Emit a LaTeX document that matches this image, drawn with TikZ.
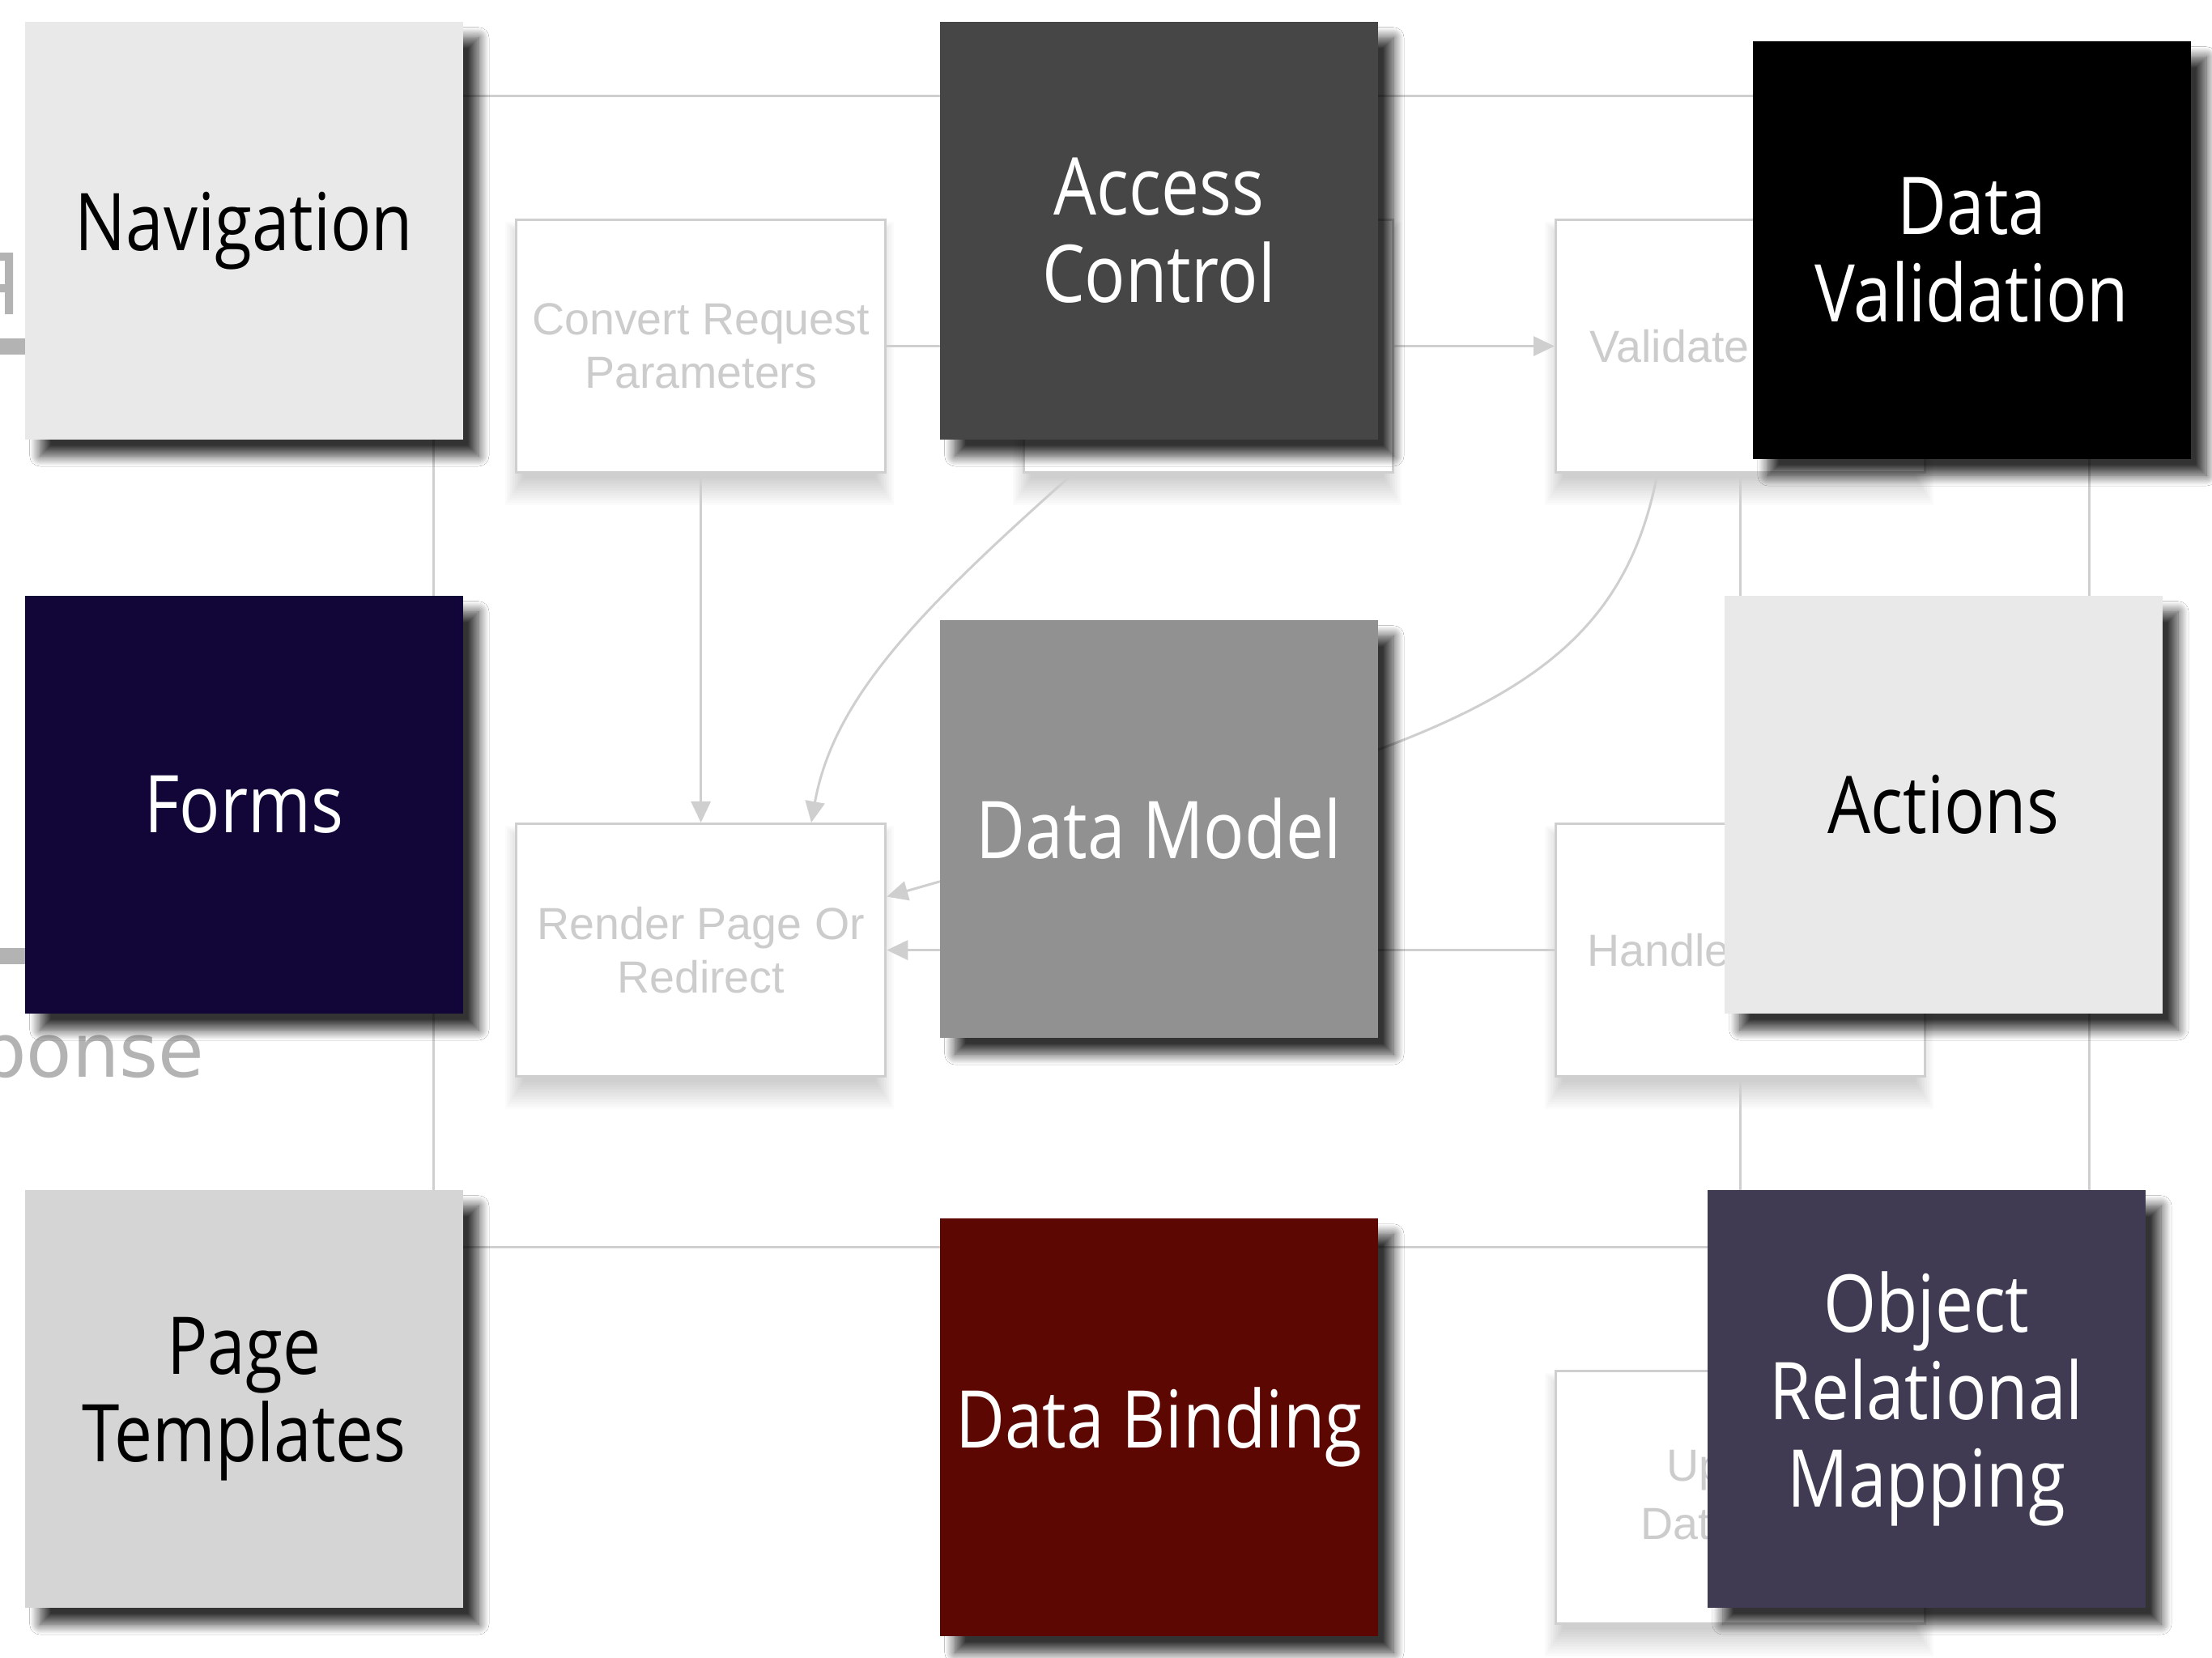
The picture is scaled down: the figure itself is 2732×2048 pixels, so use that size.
\documentclass[tikz,border=0pt]{standalone}
\usepackage{fontspec}
\usetikzlibrary{arrows.meta,shadows.blur,calc}
\newfontfamily\boxfont[FakeStretch=0.85]{Open Sans}
\newfontfamily\faintfont{Liberation Sans}
\newfontfamily\edgefont{DejaVu Sans}
\definecolor{navfill}{HTML}{E9E9E9}
\definecolor{accfill}{HTML}{464646}
\definecolor{formfill}{HTML}{120639}
\definecolor{modelfill}{HTML}{919191}
\definecolor{pagefill}{HTML}{D5D5D5}
\definecolor{bindfill}{HTML}{5C0702}
\definecolor{ormfill}{HTML}{403A52}
\definecolor{faint}{HTML}{CFCFCF}
\definecolor{faintText}{HTML}{CCCCCC}
\definecolor{edgegray}{HTML}{B3B3B3}
\tikzset{
  bigbox/.style={minimum width=5.41cm, minimum height=5.16cm, inner sep=0pt,
    anchor=north west, align=center,
    font={\boxfont\fontsize{28}{30.7}\selectfont},
    blur shadow={shadow xshift=0.19cm, shadow yshift=-0.2cm,
      shadow blur radius=0.13cm, shadow opacity=80, shadow blur steps=14}},
  fadebox/.style={draw=faint, line width=0.03cm, fill=white,
    minimum width=4.56cm, minimum height=3.12cm, inner sep=0pt,
    anchor=north west, align=center, text=faintText,
    font={\faintfont\fontsize{15.8}{18.8}\selectfont}},
  fadelabel/.style={inner sep=0pt, anchor=west, text=faintText,
    font={\faintfont\fontsize{15.8}{18.8}\selectfont}},
  softshade/.style={fill=black, fill opacity=0.014},
  conn/.style={draw=faint, line width=0.03cm},
  arr/.style={conn, -{Triangle[length=0.26cm, width=0.24cm]}, faint},
  framebar/.style={draw=faint, line width=0.03cm},
  thickbar/.style={fill=edgegray}
}
\begin{document}
\begin{tikzpicture}[x=0.01cm, y=-0.01cm]
\fill[white] (0,0) rectangle (2732,2048);
\useasboundingbox (0,0) rectangle (2732,2048);

% background frame
\coordinate (ftl) at (535,118);
\coordinate (fbr) at (2580,1540);
\draw[framebar] (ftl) rectangle (fbr);

% left-edge faded elements
\fill[thickbar] (-20,418) rectangle (300,438);
\fill[thickbar] (-20,1171) rectangle (300,1191);
\node[inner sep=0pt, anchor=base east, text=edgegray,
  font={\edgefont\fontsize{26.2}{30}\selectfont}] (resp) at (253,1330) {Response};
\fill[edgegray] (-5,312) -- (16,312) -- (16,388) -- (6,388) -- (6,361)
  -- (-5,361) -- (-5,351) -- (6,351) -- (6,322) -- (-5,322) -- cycle;

% soft shadows of the faded boxes
\foreach \x/\y in {636/270,1263/270,1920/270,636/1016,1920/1016,1920/1692}{
  \foreach \k in {0,...,11}{
    \fill[softshade] (\x-12+2*\k, \y+4+2*\k) rectangle (\x+468-2*\k, \y+354-3*\k);
  }
}

% faded process boxes
\node[fadebox] (convert) at (636,270) {Convert Request\\Parameters};
\node[fadebox] (check) at (1263,270) {};
\node[fadebox] (validate) at (1920,270) {};
\node[fadebox] (render) at (636,1016) {Render Page Or\\Redirect};
\node[fadebox] (handle) at (1920,1016) {};
\node[fadebox] (update) at (1920,1692) {};
\node[fadelabel] (vlabel) at ($(validate.west)+(43,0)$) {Validate};
\node[fadelabel] (hlabel) at ($(handle.west)+(40,0)$) {Handle};
\node[fadelabel] (ulabel) at ($(update.west)+(138,-33)$) {Up};
\node[fadelabel] (dlabel) at ($(update.west)+(106,33)$) {Dat};

% faded connectors
\draw[arr] (convert.east) -- (check.west);
\draw[arr] (check.east) -- (validate.west);
\draw[arr] (convert.south) -- (render.north);
\draw[arr] ($(check.south west)+(62,0)$) .. controls (1140,750) and (1030,860) .. ($(render.north west)+(366,0)$);
\draw[arr] ($(validate.south west)+(127,0)$) .. controls (1990,880) and (1750,920) .. ($(render.east)+(0,-66)$);
\draw[arr] (handle.west) -- (render.east);
\draw[arr] (validate.south) -- (handle.north);
\draw[arr] (handle.south) -- (update.north);

% main boxes
\node[bigbox, fill=navfill, text=black] (nav) at (30,26) {Navigation};
\node[bigbox, fill=accfill, text=white] (access) at (1160,26) {Access\\Control};
\node[bigbox, fill=black, text=white] (dval) at (2164,50) {Data\\Validation};
\node[bigbox, fill=formfill, text=white] (forms) at (30,735) {Forms};
\node[bigbox, fill=modelfill, text=white] (dmodel) at (1160,765) {Data Model};
\node[bigbox, fill=navfill, text=black] (actions) at (2129,735) {Actions};
\node[bigbox, fill=pagefill, text=black] (ptempl) at (30,1469) {Page\\Templates};
\node[bigbox, fill=bindfill, text=white] (dbind) at (1160,1504) {Data Binding};
\node[bigbox, fill=ormfill, text=white] (orm) at (2108,1469) {Object\\Relational\\Mapping};
\end{tikzpicture}
\end{document}
